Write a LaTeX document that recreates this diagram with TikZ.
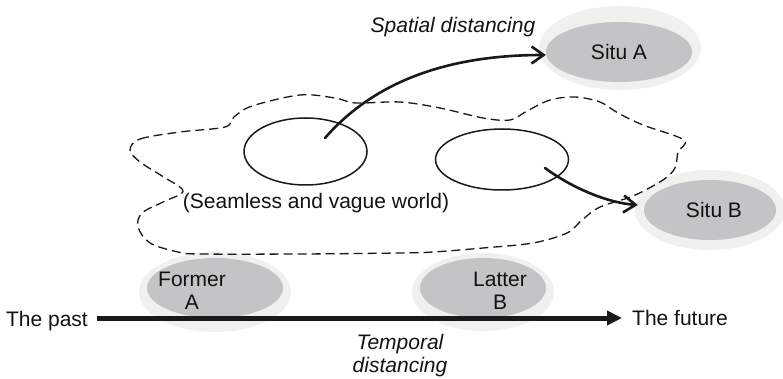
\documentclass[tikz,border=0pt]{standalone}
\usepackage{fontspec}
\setmainfont{Liberation Sans}
\usetikzlibrary{arrows.meta,shapes.geometric}
\definecolor{halocol}{HTML}{EEF1EE}
\definecolor{situgray}{HTML}{C4C4C6}
\begin{document}
\begin{tikzpicture}[x=1pt,y=-1pt,
  every node/.style={font=\fontsize{21}{23}\selectfont, inner sep=0pt, text=black!93},
  halo/.style={ellipse, fill=halocol, inner sep=0pt},
  situ/.style={ellipse, fill=situgray, inner sep=0pt},
  label/.style={align=center},
  caption/.style={align=center, font=\fontsize{21}{23}\selectfont\itshape},
  region/.style={ellipse, draw=black!90, line width=1.5pt, fill=none},
  blob/.style={draw=black!90, line width=1.3pt, dash pattern=on 9pt off 5pt},
  move/.style={draw=black!90, line width=2.6pt, line cap=round, -{Straight Barb[length=12pt,width=17pt]}},
  timeline/.style={draw=black!90, line width=5pt, -{Triangle[length=15pt,width=14pt]}}
]
\useasboundingbox (0,0) rectangle (783,379);

% situations in space
\node[halo, minimum width=162, minimum height=84] (haloA) at (620,48) {};
\node[situ, minimum width=146, minimum height=60] (sitA) at (619,52) {Situ A};
\node[halo, minimum width=150, minimum height=80] (haloB) at (710,210) {};
\node[situ, minimum width=132, minimum height=60] (sitB) at (710,210) {};
\node (labB) at (714,210) {Situ B};

% situations in time
\node[halo, minimum width=152, minimum height=80] (haloF) at (215,292) {};
\node[situ, minimum width=136, minimum height=60] (sitF) at (215,288) {};
\node[label] (labF) at (192,291) {Former\\A};
\node[halo, minimum width=142, minimum height=78] (haloL) at (483,292) {};
\node[situ, minimum width=126, minimum height=60] (sitL) at (483,288) {};
\node[label] (labL) at (500,291) {Latter\\B};

% the seamless world
\draw[blob] plot[smooth cycle, tension=0.55] coordinates {
  (130,150) (140,139) (180,132) (225,127) (234,117) (252,106) (300,95)
  (335,98) (356,103) (400,102) (440,108) (483,118) (510,120) (527,111)
  (550,100) (575,97) (600,102) (618,113) (643,125) (684,140) (678,152)
  (675,168) (663,180) (633,196) (600,207) (582,220) (567,233) (533,243)
  (483,248) (433,252) (400,253) (300,254) (200,254) (178,252) (150,243)
  (138,227) (142,213) (163,202) (183,191) (162,176) (140,162)};
\node[region, minimum width=123, minimum height=67] (r1) at (305.5,151.5) {};
\node[region, minimum width=133, minimum height=61] (r2) at (502,159.5) {};
\node (world) at (316,203) {(Seamless and vague world)};

% spatial distancing
\coordinate (s1) at (325,138);
\coordinate (s2) at (545,168);
\draw[move] (s1) .. controls (380,75) and (460,55) .. ([yshift=-3pt]sitA.west);
\draw[move] (s2) .. controls (575,190) and (610,203) .. ([xshift=-6pt,yshift=5pt]sitB.west);
\node[caption] (spatial) at (453,27) {Spatial distancing};

% temporal axis
\coordinate (tstart) at (97,318);
\coordinate (tend) at (622,318);
\draw[timeline] (tstart) -- (tend);
\node[anchor=base east] (past) at ([xshift=-9pt,yshift=-8pt]tstart) {The past};
\node[anchor=base west] (future) at ([xshift=10pt,yshift=-7pt]tend) {The future};
\node[caption] (temporal) at (400,356) {Temporal\\distancing};
\end{tikzpicture}
\end{document}
